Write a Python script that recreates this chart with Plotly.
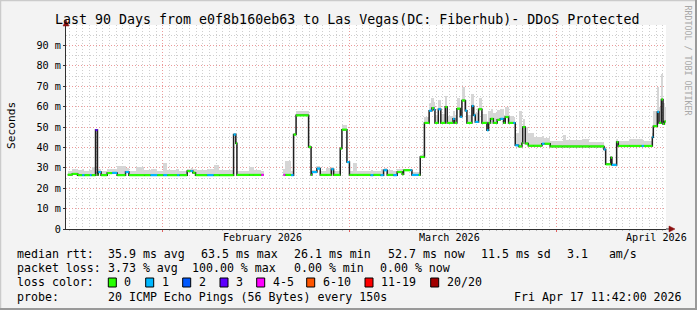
import plotly.graph_objects as go
import pandas as pd

TITLE = "Last 90 Days from e0f8b160eb63 to Las Vegas(DC: Fiberhub)- DDoS Protected"
START = "2026-01-17 11:42"
END = "2026-04-17 11:42"

# step-start times of the median RTT series (ms), loss bin index, smoke top (ms)
times = [
    "2026-01-17 18:00", "2026-01-18 10:00", "2026-01-19 06:00", "2026-01-19 22:00", "2026-01-20 06:00",
    "2026-01-21 01:30", "2026-01-21 08:00", "2026-01-21 22:00", "2026-01-22 05:00", "2026-01-22 08:00",
    "2026-01-22 18:00", "2026-01-23 16:00", "2026-01-24 10:00", "2026-01-25 04:00", "2026-01-26 10:00",
    "2026-01-26 22:00", "2026-01-28 00:00", "2026-01-29 06:00", "2026-01-30 04:00", "2026-01-31 04:00",
    "2026-02-01 02:00", "2026-02-01 16:00", "2026-02-03 04:00", "2026-02-03 12:00", "2026-02-04 16:00",
    "2026-02-05 04:00", "2026-02-05 12:00", "2026-02-05 22:00", "2026-02-07 16:00", "2026-02-08 15:00",
    "2026-02-09 12:00", "2026-02-11 15:00", "2026-02-11 23:00", "2026-02-12 03:00", "2026-02-14 00:00",
    "2026-02-14 16:00", "2026-02-15 19:00", "2026-02-16 03:20", "2026-02-19 03:00", "2026-02-19 09:00",
    "2026-02-20 06:00", "2026-02-20 15:00", "2026-02-21 00:00", "2026-02-22 21:00", "2026-02-23 06:00",
    "2026-02-23 09:00", "2026-02-24 03:00", "2026-02-24 15:00", "2026-02-25 12:00", "2026-02-26 07:00",
    "2026-02-26 15:00", "2026-02-27 15:00", "2026-02-27 21:00", "2026-02-28 15:00", "2026-03-01 00:00",
    "2026-03-01 12:00", "2026-03-02 04:00", "2026-03-04 04:00", "2026-03-04 14:00", "2026-03-05 16:00",
    "2026-03-06 03:00", "2026-03-06 16:00", "2026-03-07 14:00", "2026-03-08 04:00", "2026-03-08 22:00",
    "2026-03-09 03:00", "2026-03-10 03:00", "2026-03-10 09:00", "2026-03-11 09:00", "2026-03-11 15:00",
    "2026-03-12 06:00", "2026-03-12 23:00", "2026-03-13 09:00", "2026-03-13 16:00", "2026-03-13 20:00",
    "2026-03-14 08:00", "2026-03-14 17:00", "2026-03-15 09:00", "2026-03-15 16:00", "2026-03-16 13:00",
    "2026-03-16 19:00", "2026-03-17 03:00", "2026-03-17 15:00", "2026-03-17 21:00", "2026-03-18 09:00",
    "2026-03-18 15:00", "2026-03-19 09:00", "2026-03-19 15:00", "2026-03-19 21:00", "2026-03-20 09:00",
    "2026-03-20 21:00", "2026-03-21 15:00", "2026-03-21 21:00", "2026-03-22 04:00", "2026-03-22 14:00",
    "2026-03-23 04:00", "2026-03-23 15:00", "2026-03-24 03:00", "2026-03-24 09:00", "2026-03-24 21:00",
    "2026-03-25 14:00", "2026-03-25 21:00", "2026-03-26 09:00", "2026-03-26 21:00", "2026-03-27 00:00",
    "2026-03-27 09:00", "2026-03-27 20:00", "2026-03-28 16:00", "2026-03-29 21:00", "2026-03-30 06:00",
    "2026-03-31 03:00", "2026-04-02 00:00", "2026-04-02 12:00", "2026-04-05 00:00", "2026-04-06 00:00",
    "2026-04-08 04:30", "2026-04-08 10:30", "2026-04-09 05:00", "2026-04-09 09:00", "2026-04-10 02:00",
    "2026-04-10 08:00", "2026-04-12 00:00", "2026-04-13 20:00", "2026-04-14 04:00", "2026-04-15 10:30",
    "2026-04-15 14:00", "2026-04-16 04:30", "2026-04-16 10:30", "2026-04-16 19:00", "2026-04-17 01:00",
    "2026-04-17 06:00",
]
median_ms = [
    26.6, 27.0, 26.4, 26.4, 26.4,
    26.4, 26.4, 48.5, 26.5, 27.9,
    26.4, 27.4, 27.5, 26.4, 27.9,
    26.4, 26.4, 26.4, 26.4, 26.4,
    26.4, 26.4, 26.4, 26.4, 28.4,
    28.4, 27.6, 26.4, 26.4, 26.4,
    26.4, 46.3, 42.0, 26.5, 26.5,
    26.5, 26.5, None, 26.5, 26.5,
    26.4, 46.3, 55.7, 40.2, 26.5,
    27.9, 29.6, 26.5, 26.5, 29.3,
    26.5, 39.4, 48.7, 32.8, 26.5,
    26.5, 26.5, 26.4, 26.5, 26.4,
    28.8, 26.5, 26.4, 27.9, 26.8,
    28.8, 28.8, 26.5, 26.5, 35.3,
    52.0, 58.0, 59.3, 58.5, 52.0,
    58.7, 52.0, 59.8, 52.0, 54.0,
    52.0, 59.0, 55.0, 63.0, 58.0,
    52.0, 60.3, 55.7, 52.5, 58.7,
    52.0, 48.4, 52.0, 54.0, 52.0,
    53.5, 54.0, 52.0, 54.9, 52.0,
    52.0, 41.0, 40.5, 42.0, 50.0,
    41.9, 40.8, 40.8, 41.8, 41.8,
    40.5, 40.5, 40.5, 40.5, 40.5,
    39.0, 31.7, 35.0, 31.4, 42.6,
    40.7, 40.7, 40.7, 40.7, 45.0,
    50.4, 57.4, 52.0, 63.5, 51.5,
    52.7,
]
loss_bin = [
    0, 0, 0, 1, 0,
    1, 0, 3, 0, 1,
    0, 0, 1, 0, 1,
    0, 0, 0, 1, 0,
    1, 0, 1, 0, 0,
    1, 0, 0, 1, 0,
    0, 1, 0, 0, 0,
    0, 4, None, 4, 0,
    1, 0, 0, 0, 0,
    1, 1, 0, 0, 1,
    0, 0, 0, 1, 0,
    0, 0, 1, 0, 1,
    1, 0, 1, 0, 0,
    0, 1, 1, 0, 0,
    0, 1, 0, 1, 0,
    1, 0, 0, 0, 1,
    0, 0, 1, 0, 1,
    0, 1, 1, 1, 0,
    0, 1, 0, 0, 0,
    0, 1, 0, 0, 0,
    1, 1, 0, 0, 0,
    0, 0, 0, 1, 0,
    0, 0, 0, 0, 0,
    1, 0, 0, 1, 0,
    0, 0, 1, 0, 1,
    0, 1, 0, 0, 0,
    0,
]
smoke_ms = [
    28.6, 29.2, 28.8, 29.4, 28.4,
    29.0, 30.6, 49.0, 28.2, 29.2,
    28.6, 29.4, 29.2, 30.8, 30.0,
    28.6, 30.2, 28.8, 29.4, 28.6,
    32.2, 29.0, 29.2, 28.6, 29.6,
    29.8, 29.2, 28.8, 29.4, 31.5,
    29.0, 47.2, 43.0, 28.6, 30.5,
    28.8, 28.6, None, 29.2, 33.5,
    28.6, 47.0, 58.0, 41.0, 27.5,
    29.0, 31.0, 28.2, 29.8, 30.2,
    28.4, 40.0, 51.2, 33.5, 28.4,
    32.6, 28.5, 29.0, 28.5, 29.2,
    29.8, 28.7, 28.5, 29.4, 28.4,
    29.6, 29.4, 27.8, 27.8, 36.5,
    55.0, 62.0, 64.0, 62.5, 56.0,
    63.0, 56.5, 65.0, 55.5, 58.0,
    56.0, 64.0, 60.0, 69.6, 63.0,
    56.0, 66.0, 60.0, 57.0, 64.0,
    56.5, 53.0, 58.0, 59.0, 57.0,
    58.5, 59.0, 56.0, 60.0, 55.5,
    55.0, 47.0, 58.0, 47.0, 54.0,
    50.0, 47.0, 45.0, 45.5, 44.5,
    43.0, 46.0, 43.5, 44.0, 42.8,
    40.0, 32.5, 36.0, 32.5, 44.0,
    43.0, 44.0, 43.5, 43.0, 47.0,
    58.0, 69.6, 60.0, 76.0, 62.0,
    60.0,
]

loss_labels = ["0", "1", "2", "3", "4-5", "6-10", "11-19", "20/20"]
loss_colors = ["#26ff00", "#00b8ff", "#0059ff", "#5e00ff", "#ff00ff", "#ff5500", "#ff0000", "#a10000"]

y_tick_vals = [0, 10, 20, 30, 40, 50, 60, 70, 80, 90]
y_tick_text = ["0", "10 m", "20 m", "30 m", "40 m", "50 m", "60 m", "70 m", "80 m", "90 m"]
month_starts = ["2026-02-01", "2026-03-01", "2026-04-01"]
month_label_pos = ["2026-02-16", "2026-03-16", "2026-04-16"]
month_labels = ["February 2026", "March 2026", "April 2026"]

rtt_row = ["median rtt:", "35.9 ms avg", "63.5 ms max", "26.1 ms min", "52.7 ms now", "11.5 ms sd", "3.1   am/s"]
loss_row = ["packet loss:", "3.73 % avg", "100.00 % max", "0.00 % min", "0.00 % now"]
probe_row = ["probe:", "20 ICMP Echo Pings (56 Bytes) every 150s", "Fri Apr 17 11:42:00 2026"]

# ---- layout geometry (pixels) ----
W, H = 697, 310
PL, PR, PT, PB = 66, 666, 25, 229
MONO = "DejaVu Sans Mono"


def px(x):
    return (x - PL) / (PR - PL)


def py(y):
    return (PB - y) / (PB - PT)


t = pd.to_datetime(times)
t_end = list(t[1:]) + [pd.Timestamp(END)]

fig = go.Figure()

# smoke
sx, sb, sy, sw = [], [], [], []
for i in range(len(times)):
    if median_ms[i] is None:
        continue
    sx.append(t[i])
    sb.append(median_ms[i])
    sy.append(smoke_ms[i] - median_ms[i])
    sw.append((t_end[i] - t[i]).total_seconds() * 1000)
fig.add_trace(go.Bar(x=sx, y=sy, base=sb, width=sw, offset=0,
                     marker=dict(color="#d6d6d6", line=dict(width=0)),
                     hoverinfo="skip", showlegend=False))

# black median step line
lx, ly = [], []
for i in range(len(times)):
    if median_ms[i] is None:
        continue
    lx += [t[i], t_end[i]]
    ly += [median_ms[i], median_ms[i]]
    if i + 1 < len(times) and median_ms[i + 1] is None:
        lx.append(None)
        ly.append(None)
fig.add_trace(go.Scatter(x=lx, y=ly, mode="lines", line=dict(color="#202020", width=1.5),
                         hoverinfo="skip", showlegend=False))

# loss-coloured median segments
for b, col in enumerate(loss_colors):
    cx, cy = [], []
    for i in range(len(times)):
        if loss_bin[i] == b and median_ms[i] is not None:
            cx += [t[i], t_end[i], None]
            cy += [median_ms[i], median_ms[i], None]
    if cx:
        fig.add_trace(go.Scatter(x=cx, y=cy, mode="lines", line=dict(color=col, width=2.2),
                                 hoverinfo="skip", showlegend=False))

ann = []
# title
ann.append(dict(x=px(347), y=py(19), text=TITLE, font=dict(family=MONO, size=13.3, color="#000")))
# y title
ann.append(dict(x=px(11), y=py(126), text="Seconds", textangle=-90,
                font=dict(family=MONO, size=11.2, color="#000")))
# vertical credit
ann.append(dict(x=px(687.5), y=py(60), text="RRDTOOL / TOBI OETIKER", textangle=90,
                font=dict(family=MONO, size=8.3, color="#a8a8a8")))
# month labels
for pos, lab in zip(month_label_pos, month_labels):
    ann.append(dict(x=pos, xref="x", y=py(237.5), text=lab, font=dict(family=MONO, size=10.1, color="#000")))

rows_y = [254.3, 268.3, 282.3, 296.7]
rtt_x = [16, 107.3, 200, 293.3, 386.7, 480, 565.7]
for xx, s in zip(rtt_x, rtt_row):
    ann.append(dict(x=px(xx), y=py(rows_y[0]), text=s, xanchor="left"))
loss_x = [16, 107.3, 190.7, 293.3, 379.3]
for xx, s in zip(loss_x, loss_row):
    ann.append(dict(x=px(xx), y=py(rows_y[1]), text=s, xanchor="left"))
ann.append(dict(x=px(16), y=py(rows_y[2]), text="loss color:", xanchor="left"))
box_x = [108.3, 145.7, 182.7, 220, 256.7, 306.7, 365, 430.7]
shapes = []
for bx, lab, col in zip(box_x, loss_labels, loss_colors):
    shapes.append(dict(type="rect", xref="paper", yref="paper",
                       x0=px(bx), x1=px(bx + 8), y0=py(287), y1=py(278),
                       fillcolor=col, line=dict(color="#000", width=1)))
    ann.append(dict(x=px(bx + 15), y=py(rows_y[2]), text=lab, xanchor="left"))
probe_x = [16, 107.3, 513.3]
for xx, s in zip(probe_x, probe_row):
    ann.append(dict(x=px(xx), y=py(rows_y[3]), text=s, xanchor="left"))

for a in ann:
    a.setdefault("xref", "paper")
    a.setdefault("yref", "paper")
    a.setdefault("showarrow", False)
    a.setdefault("xanchor", "center")
    a.setdefault("yanchor", "middle")
    a.setdefault("borderpad", 0)
    a.setdefault("font", dict(family=MONO, size=11.6, color="#000"))

AX = "#303030"
ARROW = "#8b1010"
# axis arrows
shapes.append(dict(type="line", xref="paper", yref="paper", x0=1, x1=px(671), y0=0, y1=0,
                   line=dict(color=AX, width=1)))
shapes.append(dict(type="path", xref="paper", yref="paper",
                   path=f"M {px(669)},{py(226)} L {px(675)},{py(229)} L {px(669)},{py(232)} Z",
                   fillcolor=ARROW, line=dict(color=ARROW, width=0.5)))
shapes.append(dict(type="line", xref="paper", yref="paper", x0=0, x1=0, y0=1, y1=py(23),
                   line=dict(color=AX, width=1)))
shapes.append(dict(type="path", xref="paper", yref="paper",
                   path=f"M {px(63)},{py(26)} L {px(66)},{py(20)} L {px(69)},{py(26)} Z",
                   fillcolor=ARROW, line=dict(color=ARROW, width=0.5)))
# outer 3D frame
shapes.append(dict(type="line", xref="paper", yref="paper", x0=px(0.5), x1=px(0.5), y0=py(0), y1=py(310),
                   line=dict(color="#cbcbcb", width=1.5)))
shapes.append(dict(type="line", xref="paper", yref="paper", x0=px(0), x1=px(697), y0=py(0.5), y1=py(0.5),
                   line=dict(color="#cbcbcb", width=1.5)))
shapes.append(dict(type="line", xref="paper", yref="paper", x0=px(696), x1=px(696), y0=py(0), y1=py(310),
                   line=dict(color="#999999", width=2)))
shapes.append(dict(type="line", xref="paper", yref="paper", x0=px(0), x1=px(697), y0=py(309), y1=py(309),
                   line=dict(color="#999999", width=2)))

fig.update_layout(
    width=W, height=H,
    margin=dict(l=PL, r=W - PR, t=PT, b=H - PB, pad=0),
    paper_bgcolor="#f3f3f3", plot_bgcolor="#ffffff",
    showlegend=False, bargap=0,
    annotations=ann, shapes=shapes,
    font=dict(family=MONO, size=10, color="#000"),
)
fig.update_xaxes(
    type="date", range=[START, END],
    tickvals=month_starts, showticklabels=False,
    showgrid=True, gridcolor="#eb9a9a", griddash="1px,2px", gridwidth=1,
    ticks="outside", ticklen=2, tickcolor="#e06060",
    minor=dict(dtick=86400000, tick0="2026-01-18", showgrid=True, gridcolor="#cfcfcf",
               griddash="1px,2px", ticks="outside", ticklen=1, tickcolor="#bbbbbb"),
    showline=True, linecolor=AX, linewidth=1, zeroline=False, fixedrange=True,
)
fig.update_yaxes(
    range=[0, 100], tickvals=y_tick_vals, ticktext=y_tick_text,
    showgrid=True, gridcolor="#eb9a9a", griddash="1px,2px", gridwidth=1,
    ticks="outside", ticklen=2, tickcolor=AX,
    tickfont=dict(family=MONO, size=10.2, color="#000"),
    minor=dict(dtick=5, tick0=0, showgrid=True, gridcolor="#cfcfcf", griddash="1px,2px"),
    showline=True, linecolor=AX, linewidth=1, zeroline=False, fixedrange=True,
)

fig.write_html("out.html")
